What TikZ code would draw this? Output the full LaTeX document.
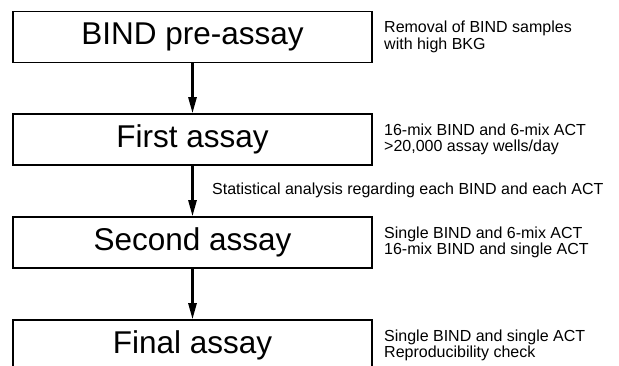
\documentclass[tikz,border=0pt]{standalone}
\usepackage{fontspec}
\setmainfont{Liberation Sans}
\usetikzlibrary{arrows.meta}

\tikzset{
  stage/.style={draw, line width=1.5pt, minimum width=359pt, minimum height=51pt,
    inner sep=0pt, font=\fontsize{31.5}{31.5}\selectfont},
  note/.style={anchor=west, align=left, inner sep=0pt, font=\fontsize{16}{16.5}\selectfont},
  flow/.style={line width=2.5pt, -{Triangle[length=16pt,width=8pt]}}
}

\begin{document}
\begin{tikzpicture}[x=1pt,y=-1pt]
\clip (0,0) rectangle (619,366);

% assay stages
\node[stage] (pre)    at (192.5,37)  {BIND pre-assay};
\node[stage] (first)  at (192.5,139.5) {First assay};
\node[stage] (second) at (192.5,242.5) {Second assay};
\node[stage] (final)  at (192.5,345.5) {Final assay};

% notes on the right
\node[note] (prenote)    at (384,37)  {Removal of BIND samples\\with high BKG};
\node[note] (firstnote)  at (384,139.5) {16-mix BIND and 6-mix ACT\\>20,000 assay wells/day};
\node[note] (secondnote) at (384,242.5) {Single BIND and 6-mix ACT\\16-mix BIND and single ACT};
\node[note] (finalnote)  at (384,345.5) {Single BIND and single ACT\\Reproducibility check};

% flow
\draw[flow] (pre) -- (first);
\draw[flow] (first) -- (second);
\draw[flow] (second) -- (final);

\node[note] (stat) at (212,190) {Statistical analysis regarding each BIND and each ACT};

\end{tikzpicture}
\end{document}
